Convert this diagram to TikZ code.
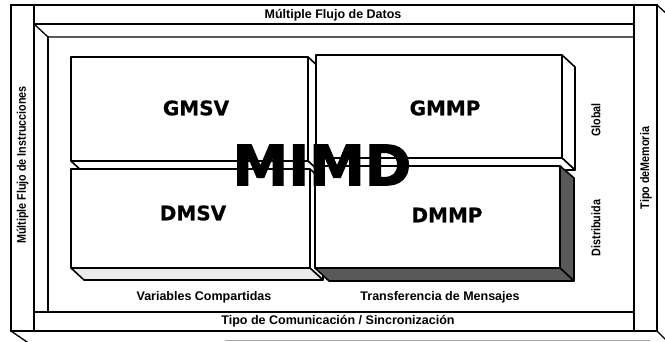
\documentclass[tikz,border=0pt]{standalone}
\usepackage{fontspec}
\setmainfont{Liberation Sans}
\newfontfamily\verd{DejaVu Sans Bold}[FakeBold=0.6]
\newfontfamily\verdh{DejaVu Sans Bold}[FakeBold=2]
\newcommand{\narrowtxt}[1]{\scalebox{0.86}[1]{#1}}
\begin{document}
\begin{tikzpicture}[x=1pt,y=-1pt,
  frame/.style={line width=1.3pt, line cap=rect},
  slab/.style={draw, line width=1.6pt, fill=white, line join=round},
  lightface/.style={slab, fill=black!8},
  darkface/.style={slab, fill=black!65},
  lbl/.style={font=\bfseries\fontsize{12.5}{12.5}\selectfont, inner sep=0},
  vlbl/.style={font=\bfseries\fontsize{12.5}{12.5}\selectfont, inner sep=0, rotate=90},
  big/.style={font=\verd\fontsize{20}{20}\selectfont, inner sep=0},
  huge/.style={font=\verdh\fontsize{56}{56}\selectfont, inner sep=0},
]
\useasboundingbox (0,0) rectangle (665,342);
% outer frame
\draw[frame] (11,5) -- (657,5);
\draw[frame] (11,5) -- (11,331) -- (657,331) -- (657,5);
\draw[frame] (34,5) -- (34,331);
\draw[frame] (634,5) -- (634,331);
\draw[frame] (34,24) -- (634,24);
\draw[frame] (34,312) -- (634,312);
\draw[frame] (34,24) -- (48,37) -- (634,37);
\draw[frame] (48,37) -- (48,312);
\draw[frame] (657,5) -- (668,15);
\draw[frame] (657,331) -- (668,342);
\draw[frame] (11,331) -- (27,342);
\draw[black!35, line width=0.8pt] (225,340.5) -- (650,340.5);
% GMSV slab
\draw[slab] (308,57) -- (321,69) -- (321,173) -- (308,161) -- cycle;
\draw[slab] (71,161) -- (308,161) -- (321,173) -- (84,173) -- cycle;
\draw[slab] (71,57) rectangle (308,161);
% GMMP slab
\draw[slab] (562,55) -- (575,67) -- (575,170) -- (562,158) -- cycle;
\draw[slab] (316,158) -- (562,158) -- (575,170) -- (329,170) -- cycle;
\draw[slab] (316,55) rectangle (562,158);
% DMSV slab
\draw[slab] (310,169) -- (323,181) -- (323,280) -- (310,268) -- cycle;
\draw[lightface] (71,268) -- (310,268) -- (323,280) -- (84,280) -- cycle;
\draw[slab] (71,169) rectangle (310,268);
% DMMP slab
\draw[darkface] (560,166) -- (574,178) -- (574,281) -- (560,268) -- cycle;
\draw[darkface] (315,268) -- (560,268) -- (574,281) -- (329,281) -- cycle;
\draw[slab] (315,166) rectangle (560,268);
% labels
\node[big] (gmsv) at (196,108) {GMSV};
\node[big] (gmmp) at (445,108) {GMMP};
\node[big] (dmsv) at (193,213) {DMSV};
\node[big] (dmmp) at (447,215) {DMMP};
\node[huge] (mimd) at (322,165) {MIMD};
\node[lbl] (datos) at (333,15) {Múltiple Flujo de Datos};
\node[lbl] (varc) at (204,297) {Variables Compartidas};
\node[lbl] (trans) at (440,297) {Transferencia de Mensajes};
\node[lbl] (tipoc) at (338,321.5) {Tipo de Comunicación / Sincronización};
\node[vlbl] (instr) at (22.5,165) {\narrowtxt{Múltiple Flujo de Instrucciones}};
\node[vlbl] (tmem) at (646,168) {\narrowtxt{Tipo deMemoria}};
\node[vlbl] (glob) at (596,120) {\narrowtxt{Global}};
\node[vlbl] (dist) at (596,228) {\narrowtxt{Distribuida}};
\end{tikzpicture}
\end{document}
